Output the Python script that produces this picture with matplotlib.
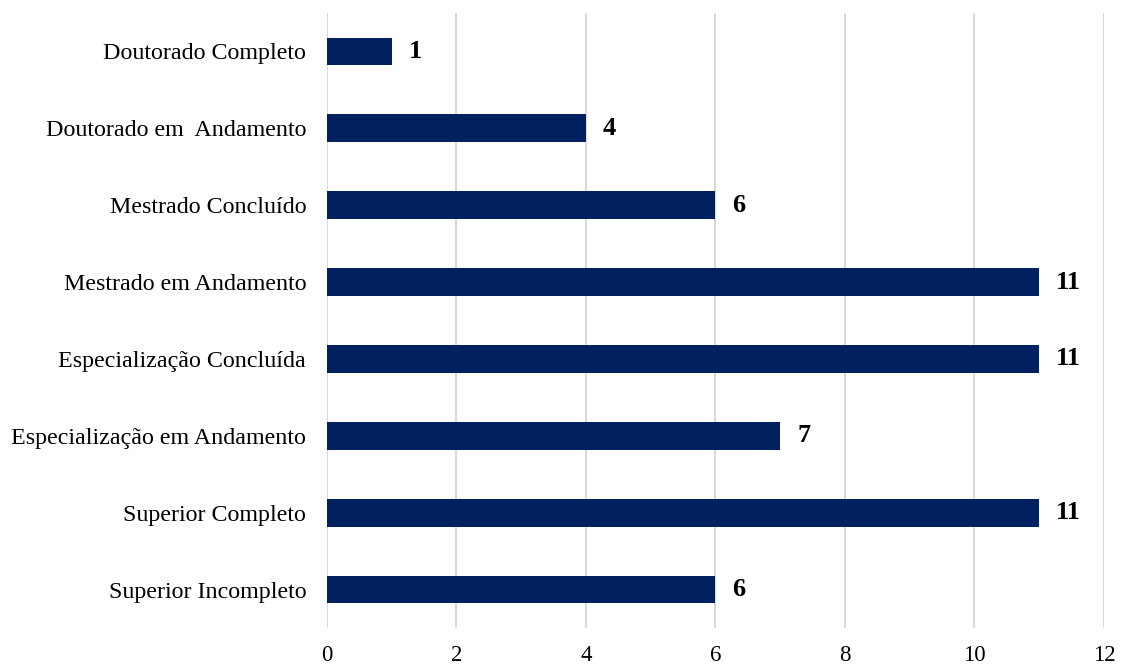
import matplotlib
matplotlib.use("Agg")
import matplotlib.pyplot as plt

categories = [
    "Superior Incompleto",
    "Superior Completo",
    "Especialização em Andamento",
    "Especialização Concluída",
    "Mestrado em Andamento",
    "Mestrado Concluído",
    "Doutorado em  Andamento",
    "Doutorado Completo",
]
values = [6, 11, 7, 11, 11, 6, 4, 1]
x_ticks = [0, 2, 4, 6, 8, 10, 12]

plt.rcParams["font.family"] = ["Liberation Serif", "DejaVu Serif"]

fig = plt.figure(figsize=(11.21, 6.66), dpi=100)
ax = fig.add_axes([0.2917, 0.057, 0.6931, 0.9235])

ypos = list(range(len(categories)))
ax.barh(ypos, values, height=0.36, color="#002060", zorder=3)

for y, v in zip(ypos, values):
    ax.text(v + 0.26, y, str(v), va="center", ha="left",
            fontsize=19, fontweight="bold", color="black")

ax.set_xlim(0, 12)
ax.set_ylim(-0.5, len(categories) - 0.5)
ax.set_xticks(x_ticks)
ax.set_xticklabels([str(t) for t in x_ticks], fontsize=16.5)
ax.set_yticks(ypos)
ax.set_yticklabels(categories, fontsize=17.3)
ax.tick_params(axis="both", length=0)
ax.tick_params(axis="x", pad=12)
ax.tick_params(axis="y", pad=15)

ax.grid(axis="x", color="#d9d9d9", linewidth=1.5, zorder=0)
for s in ax.spines.values():
    s.set_visible(False)

fig.savefig("out.png", dpi=100)
